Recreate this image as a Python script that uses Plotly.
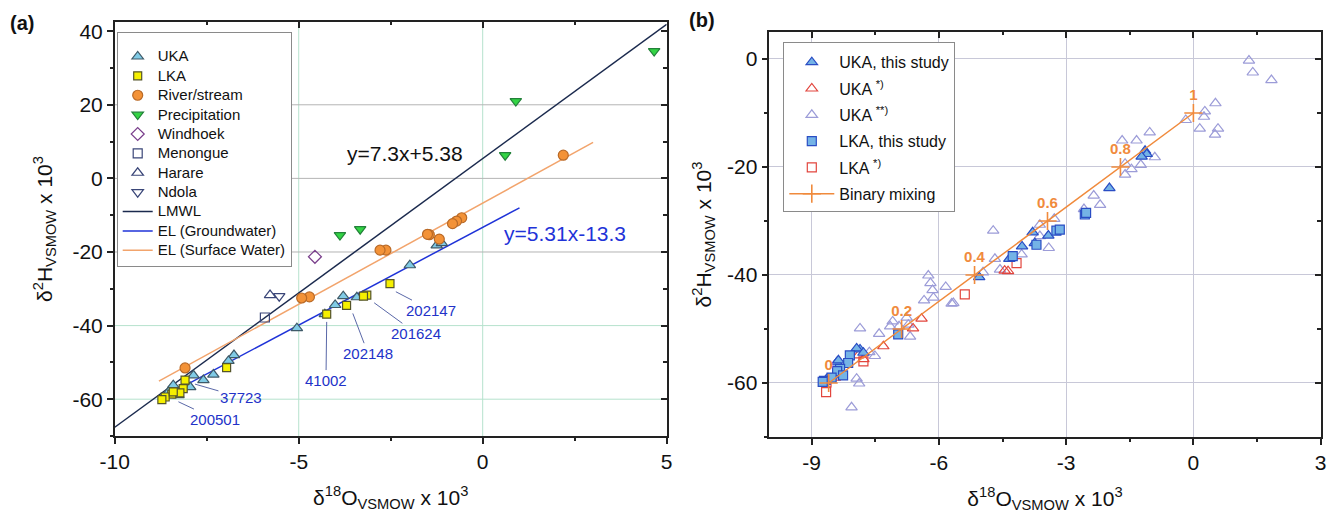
import plotly.graph_objects as go

FONT = "Arial, 'Liberation Sans', Helvetica, sans-serif"
AX = "#222222"

# ---------------- panel (a): stable isotopes by water type ----------------
uka_x = [-1.98, -1.25, -1.11, -3.79, -3.42, -4.01, -4.29, -5.05, -6.76, -6.91,
         -7.32, -7.59, -7.86, -7.95, -8.41, -8.27, -8.54]
uka_y = [-23.6, -18.2, -17.6, -32.0, -32.3, -34.4, -36.9, -40.7, -48.0, -49.6,
         -53.3, -54.8, -53.5, -56.7, -56.2, -58.9, -58.0]

lka_x = [-2.52, -3.15, -3.24, -3.70, -4.24, -6.96, -8.09, -8.14, -8.23, -8.45,
         -8.63, -8.72, -8.41]
lka_y = [-28.6, -31.7, -32.0, -34.5, -36.9, -51.4, -54.8, -57.1, -58.3, -58.6,
         -59.4, -60.1, -58.0]

river_x = [2.19, -0.57, -0.71, -0.82, -1.18, -1.45, -1.50, -2.63, -2.79, -4.71,
           -4.92, -8.09]
river_y = [6.3, -10.7, -11.6, -12.3, -16.5, -15.3, -15.2, -19.5, -19.5, -32.2,
           -32.5, -51.5]

precip_x = [4.66, 0.90, 0.61, -3.33, -3.88]
precip_y = [34.6, 21.0, 6.3, -13.8, -15.4]

windhoek_x, windhoek_y = [-4.56], [-21.3]
menongue_x, menongue_y = [-5.92], [-37.8]
harare_x, harare_y = [-5.78], [-31.7]
ndola_x, ndola_y = [-5.53], [-32.0]

# regression lines: slope, intercept, x extent
lmwl_slope, lmwl_icpt, lmwl_span = 7.3, 5.38, [-10.0, 5.0]
elgw_slope, elgw_icpt, elgw_span = 5.31, -13.3, [-8.8, 1.0]
elsw_slope, elsw_icpt, elsw_span = 5.5, -6.7, [-8.8, 3.0]

# labelled sample IDs
sample_ids = ["202147", "201624", "202148", "41002", "37723", "200501"]
sample_pt_x = [-2.36, -2.95, -3.53, -4.24, -7.82, -8.27]
sample_pt_y = [-30.8, -33.8, -36.7, -39.0, -55.9, -60.7]
sample_lab_x = [-1.40, -1.81, -3.12, -4.26, -6.57, -7.27]
sample_lab_y = [-35.8, -42.1, -47.5, -54.8, -59.5, -65.4]

# ---------------- panel (b): aquifer samples and binary mixing ----------------
uka_ts_x = [-1.14, -1.10, -1.22, -1.98, -3.42, -3.79, -3.74, -4.04, -4.34, -5.05,
            -7.86, -7.94, -7.78, -8.41, -8.37, -8.65, -8.69, -8.29]
uka_ts_y = [-17.0, -17.6, -18.1, -23.9, -32.7, -32.1, -34.1, -34.7, -37.0, -40.4,
            -53.8, -53.6, -54.4, -56.2, -55.8, -59.3, -59.8, -58.6]

uka_s1_x = [-4.37, -4.45, -6.41, -6.61, -7.31, -7.78, -7.90, -8.45]
uka_s1_y = [-39.3, -39.2, -48.1, -49.9, -53.2, -55.6, -54.9, -59.0]

uka_s2_x = [1.31, 1.40, 1.84, 0.52, 0.27, 0.25, -0.18, 0.15, 0.58, 0.51,
            -1.03, -1.68, -1.34, -0.91, -1.24, -1.46, -1.61, -1.61, -2.20,
            -2.35, -2.58, -3.28, -3.62, -3.62, -3.41, -4.72, -4.68, -4.05,
            -4.56, -4.96, -5.66, -6.25, -6.20, -6.15, -6.35, -6.13, -5.84,
            -5.70, -7.09, -7.15, -6.94, -6.76, -6.72, -6.68, -7.86, -7.41,
            -7.51, -7.64, -7.94, -7.88, -8.06]
uka_s2_y = [-0.3, -2.5, -3.9, -8.2, -9.7, -10.7, -11.3, -12.9, -12.9, -14.0,
            -13.6, -15.1, -15.1, -18.2, -19.6, -20.4, -19.4, -21.4, -27.0,
            -25.3, -27.8, -29.6, -30.7, -32.8, -35.0, -31.8, -37.0, -36.2,
            -39.0, -39.5, -45.2, -40.1, -41.5, -42.8, -44.7, -44.2, -42.2,
            -45.3, -48.6, -49.5, -49.5, -47.9, -49.2, -51.4, -49.9, -50.9,
            -55.0, -54.3, -59.2, -60.1, -64.5]

lka_ts_x = [-2.56, -2.53, -3.23, -3.15, -3.70, -4.26, -6.96, -8.10, -8.14, -8.33,
            -8.40, -8.26, -8.53, -8.71, -8.74]
lka_ts_y = [-28.8, -28.5, -31.8, -31.6, -34.4, -36.5, -51.0, -54.9, -56.3, -57.4,
            -57.8, -58.6, -59.0, -59.6, -59.8]

lka_s1_x = [-4.17, -5.39, -8.66, -8.65, -7.78]
lka_s1_y = [-37.8, -43.6, -61.7, -59.9, -56.0]

mix_frac = ["0", "0.2", "0.4", "0.6", "0.8", "1"]
mix_x = [-8.6, -6.88, -5.16, -3.44, -1.72, 0.0]
mix_y = [-60.0, -50.0, -40.0, -30.0, -20.0, -10.0]

# tick values (labels use a plain hyphen for negatives)
a_xticks = [-10, -5, 0, 5]
a_yticks = [-60, -40, -20, 0, 20, 40]
b_xticks = [-9, -6, -3, 0, 3]
b_yticks = [-60, -40, -20, 0]

# ---------------- styling ----------------
UKA_FILL, UKA_EDGE = "#80cbe6", "#3f5a68"
LKA_FILL, LKA_EDGE = "#f6f000", "#55552a"
RIV_FILL, RIV_EDGE = "#f39237", "#b96a28"
PRE_FILL, PRE_EDGE = "#33d444", "#23813a"
WIND_C = "#7a3f8c"
STN_C = "#3a4678"
LMWL_C, GW_C, SW_C = "#1b2a4e", "#1f33d8", "#f2a46c"
LABEL_C = "#2232c8"

B_FILL, B_EDGE = "#74b3e6", "#2a4dc4"
RED_C = "#e2463e"
LAV_C = "#9c9cd8"
MIX_C = "#f08a3c"


def lg(txt, size):
    return f"<span style='font-size:{size}px'>{txt}</span>"


fig = go.Figure()

# regression lines (a)
for name, slope, icpt, span, color, rank in [
    ("LMWL", lmwl_slope, lmwl_icpt, lmwl_span, LMWL_C, 9),
    ("EL (Groundwater)", elgw_slope, elgw_icpt, elgw_span, GW_C, 10),
    ("EL (Surface Water)", elsw_slope, elsw_icpt, elsw_span, SW_C, 11),
]:
    fig.add_trace(go.Scatter(
        x=span, y=[slope * v + icpt for v in span], mode="lines",
        name=lg(name, 15), line=dict(color=color, width=1.5),
        legend="legend", legendrank=rank, xaxis="x", yaxis="y"))

# markers (a)
a_series = [
    ("UKA", uka_x, uka_y, "triangle-up", 10, UKA_FILL, UKA_EDGE, 1),
    ("LKA", lka_x, lka_y, "square", 8, LKA_FILL, LKA_EDGE, 2),
    ("River/stream", river_x, river_y, "circle", 10, RIV_FILL, RIV_EDGE, 3),
    ("Precipitation", precip_x, precip_y, "triangle-down", 10, PRE_FILL, PRE_EDGE, 4),
    ("Windhoek", windhoek_x, windhoek_y, "diamond-open", 10, WIND_C, WIND_C, 5),
    ("Menongue", menongue_x, menongue_y, "square-open", 9, STN_C, STN_C, 6),
    ("Harare", harare_x, harare_y, "triangle-up-open", 10, STN_C, STN_C, 7),
    ("Ndola", ndola_x, ndola_y, "triangle-down-open", 10, STN_C, STN_C, 8),
]
for name, xs, ys, sym, size, fill, edge, rank in a_series:
    fig.add_trace(go.Scatter(
        x=xs, y=ys, mode="markers", name=lg(name, 15),
        marker=dict(symbol=sym, size=size, color=fill,
                    line=dict(color=edge, width=1.2)),
        legend="legend", legendrank=rank, xaxis="x", yaxis="y"))

# markers (b), drawn back to front
b_series = [
    ("UKA <sup>**)</sup>", uka_s2_x, uka_s2_y, "triangle-up-open", 10, LAV_C, LAV_C, 3),
    ("UKA <sup>*)</sup>", uka_s1_x, uka_s1_y, "triangle-up-open", 10, RED_C, RED_C, 2),
    ("LKA <sup>*)</sup>", lka_s1_x, lka_s1_y, "square-open", 9, RED_C, RED_C, 5),
    ("UKA, this study", uka_ts_x, uka_ts_y, "triangle-up", 10, B_FILL, B_EDGE, 1),
    ("LKA, this study", lka_ts_x, lka_ts_y, "square", 9, B_FILL, B_EDGE, 4),
]
for name, xs, ys, sym, size, fill, edge, rank in b_series:
    fig.add_trace(go.Scatter(
        x=xs, y=ys, mode="markers", name=name,
        marker=dict(symbol=sym, size=size, color=fill,
                    line=dict(color=edge, width=1.2)),
        legend="legend2", legendgroup=name, legendrank=rank,
        xaxis="x2", yaxis="y2"))

fig.add_trace(go.Scatter(
    x=mix_x, y=mix_y, mode="lines+markers+text", name="Binary mixing",
    text=mix_frac, textposition="top center",
    textfont=dict(size=15, color=MIX_C, weight="bold"),
    line=dict(color=MIX_C, width=1.5),
    marker=dict(symbol="cross-thin", size=13, color=MIX_C,
                line=dict(color=MIX_C, width=1.6)),
    legend="legend2", legendgroup="mix", legendrank=6,
    xaxis="x2", yaxis="y2"))

# empty traces that anchor the mirrored top/right axes
for xa, ya in [("x3", "y3"), ("x4", "y4")]:
    fig.add_trace(go.Scatter(x=[None], y=[None], showlegend=False,
                             hoverinfo="skip", xaxis=xa, yaxis=ya))

# ---------------- axes ----------------
TICKFONT = dict(size=21, color="#111111")
TITLEFONT = dict(size=21, color="#111111")
X_TITLE = "δ<sup>18</sup>O<sub>VSMOW</sub> x 10<sup>3</sup>"
Y_TITLE = "δ<sup>2</sup>H<sub>VSMOW</sub> x 10<sup>3</sup>"


def main_axis(domain, rng, ticks, tick0, minor_dtick, title, anchor, standoff,
              grid=None):
    d = dict(domain=domain, range=rng, anchor=anchor, automargin=False,
             tickmode="array", tickvals=ticks, ticktext=[str(v) for v in ticks],
             showline=True, linecolor=AX, linewidth=1.5,
             ticks="outside", ticklen=6, tickwidth=1.5, tickcolor=AX,
             zeroline=False, showgrid=grid is not None, tickfont=TICKFONT,
             minor=dict(ticks="outside", tick0=tick0, dtick=minor_dtick,
                        ticklen=3.5, tickwidth=1.5, tickcolor=AX, showgrid=False),
             title=dict(text=title, font=TITLEFONT, standoff=standoff))
    if grid:
        d.update(gridcolor=grid, gridwidth=1)
    return d


def mirror_axis(over, anchor, side, rng, ticks, tick0, minor_dtick):
    return dict(overlaying=over, anchor=anchor, side=side, range=rng,
                automargin=False,
                tickmode="array", tickvals=ticks, showticklabels=False,
                showline=True, linecolor=AX, linewidth=1.5,
                ticks="inside", ticklen=6, tickwidth=1.5, tickcolor=AX,
                zeroline=False, showgrid=False,
                minor=dict(ticks="inside", tick0=tick0, dtick=minor_dtick,
                           ticklen=3.5, tickwidth=1.5, tickcolor=AX,
                           showgrid=False))


XA_DOM, YA_DOM = [0.0859, 0.4990], [0.1534, 0.9573]
XB_DOM, YB_DOM = [0.5758, 0.9885], [0.1515, 0.9379]
XA_RNG, YA_RNG = [-10, 5], [-70, 42.5]
XB_RNG, YB_RNG = [-10, 3], [-70, 5]

GRID_B = "#c8c8d8"
GRID_GREEN = "#b6e2cd"
GRID_GREY = "#b4b4b4"

# panel (a) grid lines
shapes = []
for xv in [-5, 0]:
    shapes.append(dict(type="line", xref="x", yref="y", x0=xv, x1=xv,
                       y0=YA_RNG[0], y1=YA_RNG[1], layer="below",
                       line=dict(color=GRID_GREEN, width=1)))
for yv, c in [(20, GRID_GREY), (0, GRID_GREY), (-20, GRID_GREY),
              (-40, GRID_GREEN), (-60, GRID_GREEN)]:
    shapes.append(dict(type="line", xref="x", yref="y", x0=XA_RNG[0], x1=XA_RNG[1],
                       y0=yv, y1=yv, layer="below", line=dict(color=c, width=1)))

annotations = [
    dict(text="<b>(a)</b>", x=22 / 1336, y=1 - 23 / 515, xref="paper", yref="paper",
         xanchor="center", yanchor="middle", showarrow=False,
         font=dict(size=20, color="#111")),
    dict(text="<b>(b)</b>", x=702 / 1336, y=1 - 20 / 515, xref="paper", yref="paper",
         xanchor="center", yanchor="middle", showarrow=False,
         font=dict(size=20, color="#111")),
    dict(text=f"y={lmwl_slope}x+{lmwl_icpt}", x=-2.11, y=6.85, xref="x", yref="y",
         showarrow=False, font=dict(size=21, color="#111")),
    dict(text=f"y={elgw_slope}x{elgw_icpt}", x=2.24, y=-14.9, xref="x", yref="y",
         showarrow=False, font=dict(size=21, color=GW_C)),
]
for sid, px, py, lx, ly in zip(sample_ids, sample_pt_x, sample_pt_y,
                               sample_lab_x, sample_lab_y):
    annotations.append(dict(
        text=sid, x=px, y=py, ax=lx, ay=ly, xref="x", yref="y",
        axref="x", ayref="y", showarrow=True, arrowhead=0, arrowwidth=1,
        arrowcolor="#5a68a8", standoff=0, font=dict(size=15, color=LABEL_C)))

fig.update_layout(
    width=1336, height=515,
    margin=dict(l=0, r=0, t=0, b=0, autoexpand=False),
    paper_bgcolor="white", plot_bgcolor="white",
    font=dict(family=FONT, color="#111"),
    showlegend=True,
    xaxis=main_axis(XA_DOM, XA_RNG, a_xticks, -10, 2.5, X_TITLE, "y", 18),
    yaxis=main_axis(YA_DOM, YA_RNG, a_yticks, 0, 10, Y_TITLE, "x", 14),
    xaxis2=main_axis(XB_DOM, XB_RNG, b_xticks, -9, 1.5, X_TITLE, "y2", 18,
                     grid=GRID_B),
    yaxis2=main_axis(YB_DOM, YB_RNG, b_yticks, 0, 10, Y_TITLE, "x2", 10,
                     grid=GRID_B),
    xaxis3=mirror_axis("x", "y3", "top", XA_RNG, a_xticks, -10, 2.5),
    yaxis3=mirror_axis("y", "x3", "right", YA_RNG, a_yticks, 0, 10),
    xaxis4=mirror_axis("x2", "y4", "top", XB_RNG, b_xticks, -9, 1.5),
    yaxis4=mirror_axis("y2", "x4", "right", YB_RNG, b_yticks, 0, 10),
    legend=dict(x=116.7 / 1336, y=1 - 31.7 / 515, xanchor="left", yanchor="top",
                bgcolor="white", bordercolor="#8a8a8a", borderwidth=1,
                font=dict(size=12.6, color="#111"), itemwidth=30,
                traceorder="normal",
                title=dict(text="&nbsp;", font=dict(size=7))),
    legend2=dict(x=783.3 / 1336, y=1 - 41.7 / 515, xanchor="left", yanchor="top",
                 bgcolor="white", bordercolor="#8a8a8a", borderwidth=1,
                 font=dict(size=16, color="#111"), itemwidth=45,
                 traceorder="grouped", tracegroupgap=2.5,
                 title=dict(text="&nbsp;", font=dict(size=2))),
    shapes=shapes,
    annotations=annotations,
)

fig.write_html("out.html")
